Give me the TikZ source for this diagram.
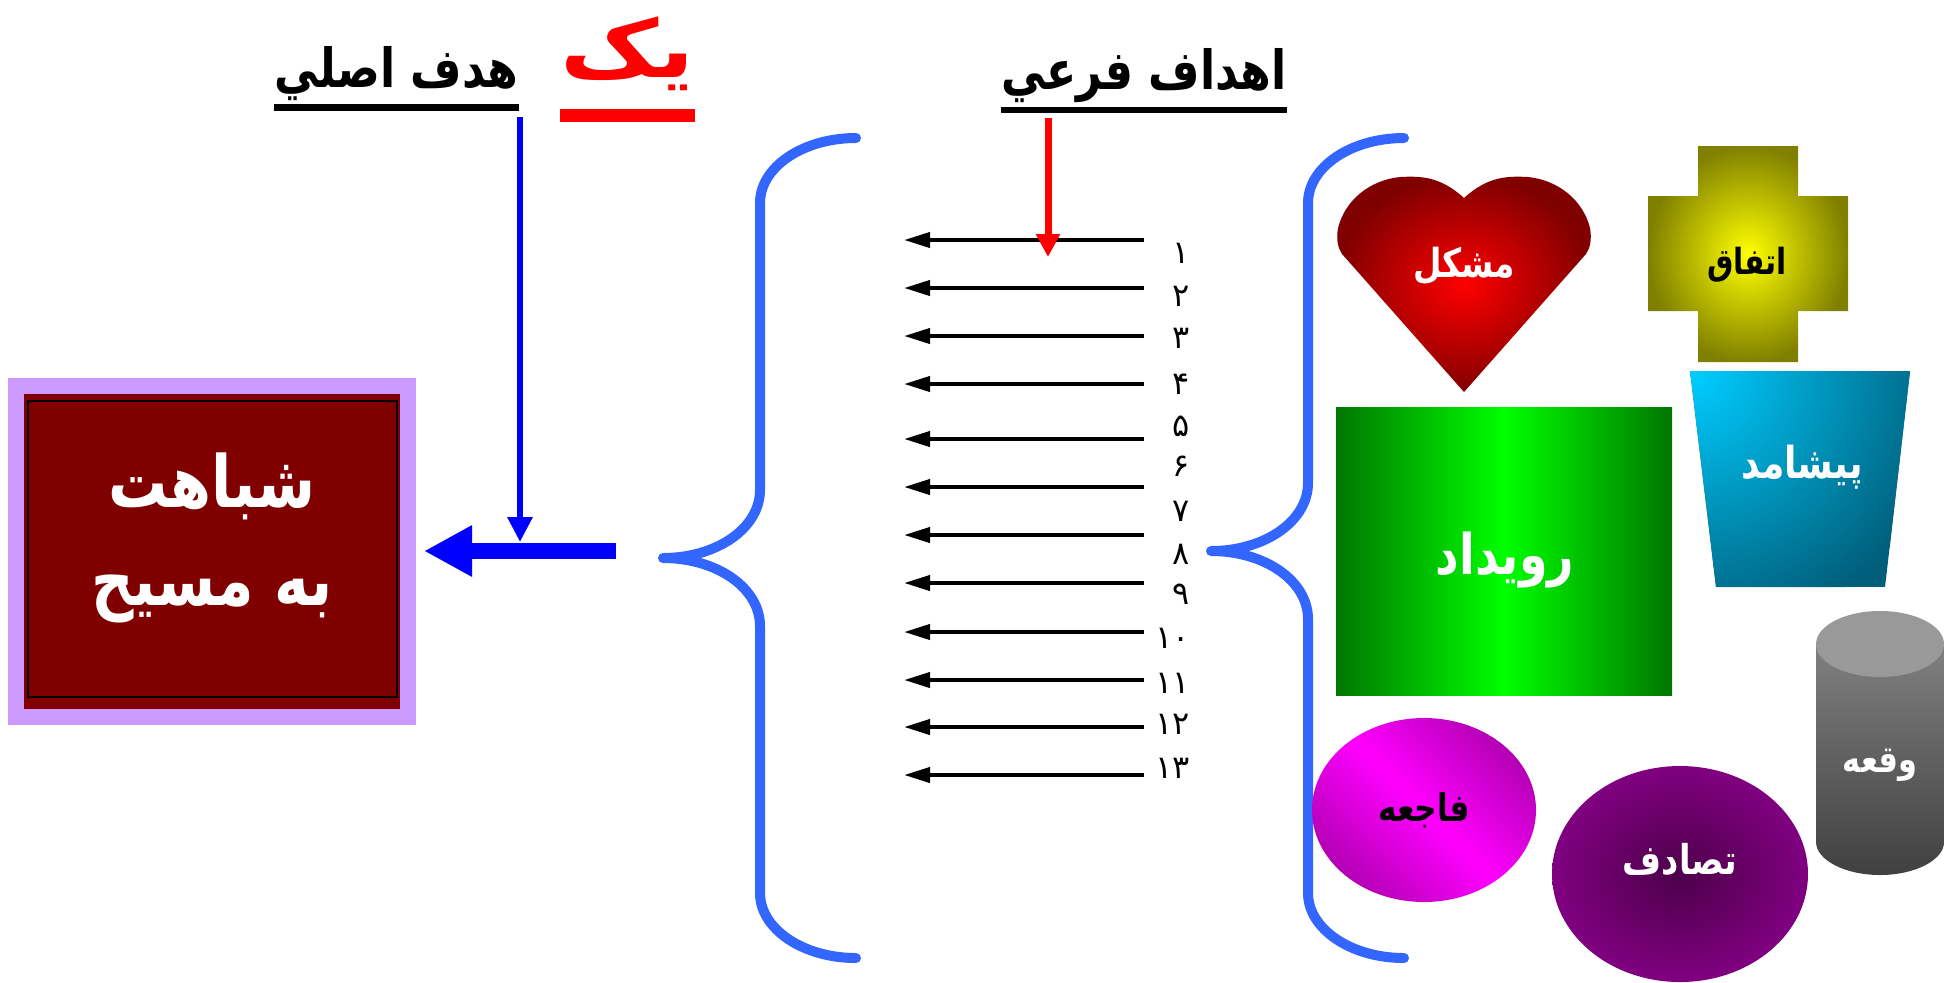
\documentclass[tikz,border=0pt]{standalone}
\usepackage{fontspec}
\newfontfamily\arabicfont[Script=Arabic]{DejaVu Sans}
\newfontfamily\arabicnarrow[Script=Arabic, FakeStretch=0.82]{DejaVu Sans}
\newfontfamily\arabicwide[Script=Arabic, FakeStretch=1.2]{DejaVu Sans}
\TeXXeTstate=1
\usetikzlibrary{arrows.meta}
\definecolor{lavender}{RGB}{204,153,255}
\definecolor{maroon}{RGB}{128,0,0}
\definecolor{braceblue}{RGB}{51,102,255}
\definecolor{pureblue}{RGB}{0,0,255}
\definecolor{olivey}{RGB}{128,128,0}
\definecolor{greenD}{RGB}{0,118,0}
\definecolor{greenL}{RGB}{0,255,0}
\definecolor{cyanL}{RGB}{0,204,255}
\definecolor{tealD}{RGB}{0,94,122}
\definecolor{grayT}{RGB}{153,153,153}
\definecolor{grayM}{RGB}{128,128,128}
\definecolor{grayD}{RGB}{64,64,64}
\definecolor{magD}{RGB}{180,0,180}
\definecolor{purpD}{RGB}{77,0,74}
\definecolor{purp}{RGB}{128,0,128}
\newcommand\rtltext[1]{\beginR#1\endR}
\tikzset{
	fa/.style={inner sep=0pt, font=\arabicnarrow\bfseries\fontsize{#1}{#1}\selectfont},
	goalbox/.style={draw=lavender, line width=8pt, fill=maroon,
		minimum width=196pt, minimum height=165.5pt, inner sep=0pt},
	goaltext/.style={text=white, align=center, inner sep=0pt,
		font=\arabicnarrow\bfseries\fontsize{36}{49}\selectfont},
	uline/.style={line width=#1},
	curly/.style={draw=braceblue, line width=5pt, line cap=round, line join=round},
	subarrow/.style={line width=2pt, -{Triangle[length=13pt, width=7.5pt]}},
	num/.style={anchor=base east, inner sep=0pt, font=\arabicfont\fontsize{16}{16}\selectfont},
}
\begin{document}
\begin{tikzpicture}[x=0.5pt, y=-0.5pt]
	\useasboundingbox (0,0) rectangle (1957,982);
	\node[fa=27, anchor=base east] (hadaf) at (519,87) {\rtltext{هدف اصلي}};
	\node[inner sep=0pt, anchor=base east, text=red, font=\arabicwide\bfseries\fontsize{40}{40}\selectfont] (yek) at (695,77) {\rtltext{يک}};
	\node[fa=27, anchor=base east] (farei) at (1287,89) {\rtltext{اهداف فرعي}};
	\draw[uline=3.5pt] ([yshift=-10pt]hadaf.base west) -- ([yshift=-10pt]hadaf.base east);
	\draw[uline=6.5pt, red] ([yshift=-19pt]yek.base west) -- ([yshift=-19pt]yek.base east);
	\draw[uline=3pt] ([yshift=-10.5pt]farei.base west) -- ([yshift=-10.5pt]farei.base east);
	\node[goalbox] (goal) at (212,551) {};
	\draw[line width=1pt] (28,401) rectangle (397,697);
	\node[goaltext, yshift=6.5pt] (goaltxt) at (goal) {\rtltext{شباهت}\\\rtltext{به مسيح}};
	\path
	(520,117)coordinate(hadafend)
	(520,542)coordinate(meet)
	(616,551)coordinate(subout)
	(1048,118)coordinate(fareiend)
	(1048,257)coordinate(fareitip)
	;
	\draw[pureblue, line width=3pt, -{Triangle[length=12.5pt, width=12pt]}] (hadafend) -- (meet);
	\draw[pureblue, line width=8pt, -{Triangle[length=24pt, width=24pt]}] (subout) -- ([xshift=4pt]goal.east);
	\foreach \v/\m in {760/558, 1308/551}{
		\draw[curly] (\v+96,138) .. controls (\v+43,138) and (\v,167) .. (\v,203)
		-- (\v,\m-68) .. controls (\v,\m-30) and (\v-43,\m) .. (\v-97,\m)
		.. controls (\v-43,\m) and (\v,\m+30) .. (\v,\m+68)
		-- (\v,893) .. controls (\v,929) and (\v+43,958) .. (\v+96,958);}
	\foreach \i/\y in {1/240, 2/288, 3/336, 4/384, 5/439, 6/487, 7/535, 8/583, 9/632, 10/680, 11/727, 12/775}{
		\path (1144,\y)coordinate(s\i) (904,\y)coordinate(e\i);
		\draw[subarrow] (s\i) -- (e\i);}
	\foreach \n/\y [count=\k] in {۱/263, ۲/306, ۳/348, ۴/394, ۵/436, ۶/476, ۷/521, ۸/564, ۹/604, ۱۰/648, ۱۱/693, ۱۲/734, ۱۳/778}
		\node[num] (num\k) at (1190,\y) {\n};
	\draw[red, line width=3.5pt, -{Triangle[length=11.5pt, width=11.5pt]}] (fareiend) -- (fareitip);
	\shade[inner color=red, outer color=maroon] (1464,198) .. controls (1440,176) and (1420,176) .. (1400,177)
		.. controls (1370,180) and (1345,200) .. (1338,228) .. controls (1336,240) and (1338,248) .. (1342,254)
		-- (1464,392) -- (1586,254) .. controls (1590,248) and (1592,240) .. (1590,228)
		.. controls (1583,200) and (1558,180) .. (1528,177) .. controls (1508,176) and (1488,176) .. cycle;
	\shade[inner color=yellow, outer color=olivey] (1698,146) -- (1798,146) -- (1798,196) -- (1848,196) -- (1848,311)
		-- (1798,311) -- (1798,362) -- (1698,362) -- (1698,311) -- (1648,311) -- (1648,196) -- (1698,196) -- cycle;
	\shade[left color=greenD, right color=greenD, middle color=greenL] (1336,407) rectangle (1672,695);
	\begin{scope}
		\clip (1690,371) -- (1910,371) -- (1885,587) -- (1716,587) -- cycle;
		\fill[tealD] (1690,371) rectangle (1910,587);
		\shade[inner color=cyanL, outer color=tealD] (1695,375) circle (260);
	\end{scope}
	\shade[top color=grayM, bottom color=grayD] (1816,644) -- (1816,842) .. controls (1816,860) and (1845,875) .. (1880,875)
		.. controls (1915,875) and (1944,860) .. (1944,842) -- (1944,644) -- cycle;
	\fill[grayT] (1880,644) ellipse [x radius=64, y radius=33];
	\shade[top color=magD, bottom color=magD, middle color=magenta, shading angle=-45] (1424,810) ellipse [x radius=112, y radius=92];
	\shade[inner color=purpD, outer color=purp] (1680,874) ellipse [x radius=128, y radius=108];
	\node[fa=20, text=white] (mushkil) at (1464,266) {\rtltext{مشکل}};
	\node[fa=18] (ittefaq) at (1747,265) {\rtltext{اتفاق}};
	\node[fa=28, text=white] (ruydad) at (1505,560) {\rtltext{رویداد}};
	\node[fa=22, text=white] (pishamad) at (1802,467) {\rtltext{پیشامد}};
	\node[fa=18.5, text=white] (vaghe) at (1880,765) {\rtltext{وقعه}};
	\node[fa=19] (fajeh) at (1424,810) {\rtltext{فاجعه}};
	\node[fa=20.5, text=white] (tasadof) at (1680,859) {\rtltext{تصادف}};
\end{tikzpicture}
\end{document}
